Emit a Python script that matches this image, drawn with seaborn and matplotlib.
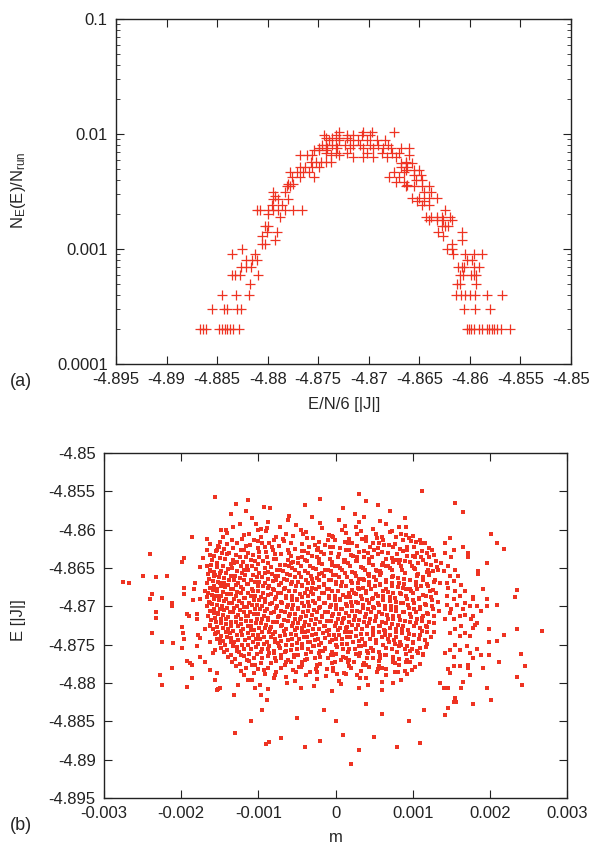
import numpy as np
import pandas as pd
import matplotlib
matplotlib.use('Agg')
import matplotlib.pyplot as plt
import seaborn as sns
from matplotlib.ticker import FixedLocator, FixedFormatter, LogLocator, NullFormatter

RED = '#ee3322'

# (a) histogram of energies: (E/N/6, N_E(E)/N_run)
hist_points = [
    (-4.8867, 0.0002), (-4.8864, 0.0002), (-4.8861, 0.0002), (-4.8848, 0.0002), (-4.8845, 0.0002),
    (-4.8842, 0.0002), (-4.8840, 0.0002), (-4.8837, 0.0002), (-4.8834, 0.0002), (-4.8828, 0.0002),
    (-4.8603, 0.0002), (-4.8601, 0.0002), (-4.8599, 0.0002), (-4.8596, 0.0002), (-4.8591, 0.0002),
    (-4.8588, 0.0002), (-4.8583, 0.0002), (-4.8581, 0.0002), (-4.8578, 0.0002), (-4.8576, 0.0002),
    (-4.8573, 0.0002), (-4.8569, 0.0002), (-4.8560, 0.0002),
    (-4.8855, 0.0003), (-4.8843, 0.0003), (-4.8840, 0.0003), (-4.8830, 0.0003), (-4.8826, 0.0003),
    (-4.8606, 0.0003), (-4.8595, 0.0003), (-4.8580, 0.0003),
    (-4.8845, 0.0004), (-4.8831, 0.0004), (-4.8818, 0.0004), (-4.8614, 0.0004), (-4.8609, 0.0004),
    (-4.8605, 0.0004), (-4.8600, 0.0004), (-4.8595, 0.0004), (-4.8583, 0.0004), (-4.8568, 0.0004),
    (-4.8817, 0.0005), (-4.8613, 0.0005), (-4.8610, 0.0005), (-4.8594, 0.0005),
    (-4.8835, 0.0006), (-4.8832, 0.0006), (-4.8827, 0.0006), (-4.8810, 0.0006), (-4.8610, 0.0006),
    (-4.8607, 0.0006), (-4.8599, 0.0006), (-4.8596, 0.0006), (-4.8594, 0.0006),
    (-4.8826, 0.0007), (-4.8821, 0.0007), (-4.8816, 0.0007), (-4.8612, 0.0007), (-4.8608, 0.0007),
    (-4.8606, 0.0007), (-4.8596, 0.0007), (-4.8591, 0.0007),
    (-4.8821, 0.0008), (-4.8815, 0.0008), (-4.8811, 0.0008), (-4.8603, 0.0008), (-4.8598, 0.0008),
    (-4.8835, 0.0009), (-4.8813, 0.0009), (-4.8617, 0.0009), (-4.8605, 0.0009), (-4.8596, 0.0009),
    (-4.8588, 0.0009),
    (-4.8825, 0.0010), (-4.8623, 0.0010), (-4.8618, 0.0010),
    (-4.8806, 0.0011), (-4.8803, 0.0011), (-4.8618, 0.0011),
    (-4.8793, 0.0012), (-4.8608, 0.0012),
    (-4.8806, 0.0013), (-4.8627, 0.0013),
    (-4.8801, 0.0014), (-4.8791, 0.0014), (-4.8632, 0.0014), (-4.8608, 0.0014),
    (-4.8803, 0.0016), (-4.8800, 0.0016), (-4.8628, 0.0016), (-4.8625, 0.0016), (-4.8622, 0.0016),
    (-4.8640, 0.0018), (-4.8633, 0.0018), (-4.8627, 0.0018), (-4.8618, 0.0018),
    (-4.8788, 0.0019), (-4.8643, 0.0019), (-4.8638, 0.0019), (-4.8633, 0.0019), (-4.8628, 0.0019),
    (-4.8620, 0.0019),
    (-4.8800, 0.0020),
    (-4.8811, 0.0022), (-4.8808, 0.0022), (-4.8800, 0.0022), (-4.8795, 0.0022), (-4.8790, 0.0022),
    (-4.8783, 0.0022), (-4.8775, 0.0022), (-4.8766, 0.0022), (-4.8625, 0.0022),
    (-4.8796, 0.0024), (-4.8786, 0.0024), (-4.8647, 0.0024), (-4.8640, 0.0024),
    (-4.8652, 0.0026), (-4.8645, 0.0026),
    (-4.8795, 0.0027), (-4.8790, 0.0027), (-4.8780, 0.0027),
    (-4.8657, 0.0028), (-4.8650, 0.0028), (-4.8640, 0.0028), (-4.8633, 0.0028),
    (-4.8793, 0.0029),
    (-4.8795, 0.0031), (-4.8783, 0.0031), (-4.8645, 0.0031), (-4.8638, 0.0031),
    (-4.8781, 0.0035), (-4.8778, 0.0035), (-4.8663, 0.0035), (-4.8655, 0.0035), (-4.8647, 0.0035),
    (-4.8640, 0.0035),
    (-4.8662, 0.0036),
    (-4.8780, 0.0037), (-4.8775, 0.0037),
    (-4.8673, 0.0038), (-4.8665, 0.0038),
    (-4.8653, 0.0040), (-4.8647, 0.0040),
    (-4.8776, 0.0042), (-4.8768, 0.0042), (-4.8754, 0.0042), (-4.8680, 0.0042), (-4.8670, 0.0042),
    (-4.8655, 0.0044), (-4.8648, 0.0044),
    (-4.8778, 0.0047), (-4.8771, 0.0047), (-4.8765, 0.0047), (-4.8759, 0.0047), (-4.8675, 0.0047),
    (-4.8665, 0.0047),
    (-4.8663, 0.0049), (-4.8655, 0.0049), (-4.8650, 0.0049),
    (-4.8768, 0.0052), (-4.8763, 0.0052), (-4.8756, 0.0052), (-4.8749, 0.0052), (-4.8668, 0.0052),
    (-4.8662, 0.0052),
    (-4.8668, 0.0056), (-4.8663, 0.0056), (-4.8657, 0.0056),
    (-4.8757, 0.0057), (-4.8752, 0.0057), (-4.8747, 0.0057), (-4.8742, 0.0057), (-4.8737, 0.0057),
    (-4.8663, 0.0057),
    (-4.8716, 0.0063), (-4.8706, 0.0063), (-4.8696, 0.0063), (-4.8682, 0.0063), (-4.8673, 0.0063),
    (-4.8768, 0.0066), (-4.8761, 0.0066), (-4.8756, 0.0066), (-4.8737, 0.0066), (-4.8729, 0.0066),
    (-4.8660, 0.0066),
    (-4.8742, 0.0068), (-4.8732, 0.0068), (-4.8722, 0.0068), (-4.8702, 0.0068), (-4.8687, 0.0068),
    (-4.8677, 0.0068), (-4.8670, 0.0068),
    (-4.8754, 0.0073), (-4.8749, 0.0073), (-4.8742, 0.0073),
    (-4.8749, 0.0076), (-4.8741, 0.0076), (-4.8731, 0.0076), (-4.8719, 0.0076), (-4.8706, 0.0076),
    (-4.8696, 0.0076), (-4.8686, 0.0076), (-4.8678, 0.0076), (-4.8668, 0.0076), (-4.8660, 0.0076),
    (-4.8746, 0.0080), (-4.8742, 0.0080), (-4.8736, 0.0080), (-4.8732, 0.0080), (-4.8724, 0.0080),
    (-4.8716, 0.0080), (-4.8709, 0.0080), (-4.8699, 0.0080), (-4.8691, 0.0080), (-4.8681, 0.0080),
    (-4.8739, 0.0089), (-4.8729, 0.0089), (-4.8719, 0.0089), (-4.8711, 0.0089), (-4.8702, 0.0089),
    (-4.8692, 0.0089), (-4.8684, 0.0089),
    (-4.8742, 0.0092), (-4.8736, 0.0092), (-4.8729, 0.0092), (-4.8722, 0.0092),
    (-4.8744, 0.0098), (-4.8732, 0.0098), (-4.8722, 0.0098), (-4.8716, 0.0098), (-4.8707, 0.0098),
    (-4.8699, 0.0098),
    (-4.8729, 0.0105), (-4.8706, 0.0105), (-4.8697, 0.0105), (-4.8675, 0.0105),
]

# (b) samples: (m in units of 1e-5, E - (-4.87) in units of 1e-4)
outer_left = [
    (-156, 143), (-129, 134), (-113, 139), (-136, 121), (-116, 125), (-93, 129), (-103, 107),
    (-96, 101), (-89, 102), (-149, 99), (-142, 100), (-186, 90), (-166, 88), (-163, 81), (-241, 68),
    (-196, 63), (-199, 58), (-176, 51), (-166, 52), (-172, 63), (-275, 32), (-268, 30), (-249, 40),
    (-232, 38), (-218, 40), (-238, 16), (-225, 11), (-241, 10), (-212, 4), (-212, 0), (-196, 16),
    (-196, 24), (-182, 30), (-184, 23), (-185, 8), (-176, 10), (-192, -10), (-190, -12), (-179, -10),
    (-179, -16), (-232, -8), (-232, -15), (-238, -35), (-225, -46), (-210, -48), (-199, -27),
    (-198, -35), (-196, -43), (-199, -54), (-178, -38), (-176, -41), (-179, -52), (-176, -66),
    (-192, -71), (-189, -74), (-186, -77), (-212, -80), (-228, -90), (-225, -103), (-186, -93),
    (-192, -105), (-156, -96), (-152, -108), (-153, -109), (-132, -116), (-126, -103), (-113, -96),
    (-104, -106), (-96, -116), (-89, -122), (-86, -177),
    (-166, 74), (-163, 67), (-152, 79), (-153, 74), (-163, 46), (-156, 41), (-169, 20), (-163, 4),
    (-166, 0), (-158, -9), (-163, -26), (-169, -30), (-155, -35), (-163, -46), (-156, -57),
    (-169, -72), (-163, -83), (-153, -87), (-150, -107), (-159, -61), (-150, 31), (-154, 22),
    (-150, -43), (-152, -9), (-150, 13),
]

outer_right = [
    (155, 135), (165, 123), (202, 94), (209, 83), (218, 75), (148, 89), (142, 82), (153, 74),
    (172, 70), (172, 64), (165, 78), (196, 56), (185, 46), (185, 42), (191, 22), (178, 12), (235, 21),
    (232, 12), (196, 10), (183, 1), (174, 0), (196, 1), (189, -6), (178, -13), (183, -22), (209, 2),
    (199, -30), (199, -46), (209, -45), (219, -38), (235, -29), (268, -32), (189, -64), (199, -64),
    (212, -72), (191, -81), (241, -62), (245, -78), (235, -92), (242, -102), (196, -107), (202, -122),
    (178, -127), (172, -76), (172, -80), (174, -89), (165, -99), (155, -120), (153, -125), (156, -125),
    (146, -132), (142, -142), (162, -106), (146, -106), (140, -106), (135, -100), (153, -66),
    (146, -82), (148, -87), (161, -78), (153, -78), (178, -67), (174, -61), (183, -55), (170, -52),
    (161, -57), (155, -50), (148, -57), (142, -61), (168, -35), (161, -39), (155, -30), (148, -35),
    (163, -26), (178, -28), (174, -39), (181, -24), (176, -17), (168, -11), (161, -13), (153, -17),
    (148, -9), (142, -17), (165, -4), (157, 2), (150, -4), (144, 2), (168, 4), (178, 10), (161, 13),
    (153, 9), (144, 13), (168, 20), (155, 20), (146, 24), (163, 28), (153, 33), (144, 30), (159, 39),
    (148, 39), (140, 46), (155, 48), (146, 52), (137, 57), (150, 65), (142, 70),
]

outer_top_bottom = [
    (30, 147), (112, 151), (40, 138), (-40, 132), (70, 125), (-85, 128), (25, 120), (-60, 118),
    (90, 115), (10, 128), (-20, 140), (55, 132),
    (20, -205), (-90, -180), (110, -178), (-40, -183), (50, -170), (-130, -165), (80, -183),
    (-20, -175), (10, -168), (-70, -172), (30, -188), (-110, -150), (95, -150), (60, -140),
    (-50, -145), (0, -150), (-15, -135), (40, -128), (-95, -135), (115, -135),
]

core = [
    (-108, 115), (-62, 112), (-31, 117), (4, 113), (37, 116), (58, 111),
    (-124, 108), (-88, 110), (-51, 106), (-20, 109), (12, 105), (30, 110), (66, 107), (82, 104),
    (-133, 103), (-101, 100), (-72, 104), (-45, 99), (-17, 102), (8, 100), (26, 104), (49, 101),
    (73, 98), (91, 103),
    (-140, 96), (-112, 94), (-90, 98), (-64, 95), (-38, 97), (-9, 93), (14, 96), (33, 98), (52, 94),
    (70, 97), (85, 95), (101, 92),
    (-146, 90), (-121, 88), (-97, 91), (-80, 87), (-55, 92), (-29, 89), (-3, 91), (18, 88), (40, 90),
    (61, 86), (79, 91), (95, 89), (110, 87),
    (-150, 84), (-128, 82), (-106, 86), (-86, 83), (-67, 85), (-44, 81), (-22, 84), (-1, 86), (21, 82),
    (39, 85), (57, 83), (77, 81), (98, 85), (116, 83),
    (-151, 78), (-133, 76), (-111, 80), (-92, 77), (-73, 79), (-52, 75), (-34, 78), (-13, 80), (6, 76),
    (28, 79), (45, 77), (63, 80), (84, 75), (102, 78), (121, 76),
    (-155, 72), (-138, 70), (-119, 74), (-99, 71), (-81, 73), (-60, 69), (-41, 72), (-24, 74), (-6, 70),
    (13, 73), (31, 71), (50, 74), (68, 69), (88, 72), (106, 70), (125, 73),
    (-157, 66), (-141, 68), (-124, 64), (-107, 67), (-89, 65), (-70, 68), (-49, 63), (-31, 66),
    (-15, 68), (3, 64), (20, 67), (37, 65), (55, 68), (73, 63), (93, 66), (111, 64), (127, 67),
    (-160, 60), (-143, 62), (-127, 58), (-110, 61), (-94, 59), (-77, 62), (-58, 57), (-40, 60),
    (-22, 62), (-5, 58), (12, 61), (28, 59), (44, 62), (61, 57), (79, 60), (97, 58), (114, 61), (130, 59),
    (-161, 54), (-146, 52), (-131, 56), (-115, 53), (-100, 55), (-84, 51), (-66, 54), (-49, 56),
    (-33, 52), (-17, 55), (-1, 53), (16, 56), (33, 51), (49, 54), (65, 52), (82, 56), (99, 53),
    (117, 55), (131, 51),
    (-162, 48), (-148, 46), (-134, 50), (-118, 47), (-103, 49), (-87, 45), (-72, 48), (-56, 50),
    (-40, 46), (-25, 49), (-10, 47), (6, 50), (22, 45), (38, 48), (54, 46), (70, 50), (86, 47),
    (103, 49), (119, 45), (133, 48),
    (-165, 42), (-150, 44), (-136, 40), (-121, 43), (-107, 41), (-92, 44), (-78, 39), (-63, 42),
    (-47, 44), (-32, 40), (-18, 43), (-3, 41), (12, 44), (27, 39), (43, 42), (59, 44), (74, 40),
    (90, 43), (106, 41), (121, 44),
    (-164, 36), (-151, 38), (-138, 34), (-124, 37), (-110, 35), (-95, 38), (-81, 33), (-67, 36),
    (-52, 38), (-38, 34), (-24, 37), (-9, 35), (5, 38), (20, 33), (35, 36), (50, 38), (66, 34),
    (81, 37), (97, 35), (113, 38), (129, 34),
    (-166, 30), (-152, 32), (-139, 28), (-126, 31), (-113, 29), (-99, 32), (-86, 27), (-71, 30),
    (-57, 32), (-43, 28), (-29, 31), (-15, 29), (0, 32), (14, 27), (29, 30), (44, 32), (58, 28),
    (73, 31), (89, 29), (104, 32), (120, 27), (135, 30),
    (-163, 24), (-149, 26), (-135, 22), (-122, 25), (-108, 23), (-94, 26), (-80, 21), (-65, 24),
    (-51, 26), (-37, 22), (-22, 25), (-8, 23), (7, 26), (21, 21), (36, 24), (51, 26), (65, 22),
    (81, 25), (96, 23), (111, 26), (126, 21),
    (-165, 18), (-153, 20), (-140, 16), (-127, 19), (-114, 17), (-101, 20), (-88, 15), (-74, 18),
    (-60, 20), (-46, 16), (-32, 19), (-18, 17), (-4, 20), (10, 15), (24, 18), (39, 20), (53, 16),
    (68, 19), (83, 17), (98, 20), (113, 15), (130, 18),
    (-167, 12), (-155, 14), (-142, 10), (-129, 13), (-117, 11), (-104, 14), (-91, 9), (-77, 12),
    (-64, 14), (-50, 10), (-36, 13), (-22, 11), (-8, 14), (6, 9), (19, 12), (33, 14), (47, 10),
    (62, 13), (77, 11), (92, 14), (108, 9), (124, 12),
    (-164, 6), (-151, 8), (-138, 4), (-125, 7), (-112, 5), (-99, 8), (-85, 3), (-71, 6), (-57, 8),
    (-43, 4), (-29, 7), (-15, 5), (-1, 8), (13, 3), (27, 6), (41, 8), (55, 4), (70, 7), (85, 5),
    (100, 8), (116, 3), (133, 6),
    (-166, 0), (-154, 2), (-141, -2), (-128, 1), (-115, -1), (-102, 2), (-89, -3), (-76, 0), (-62, 2),
    (-48, -2), (-34, 1), (-20, -1), (-6, 2), (8, -3), (22, 0), (36, 2), (50, -2), (64, 1), (79, -1),
    (94, 2), (109, -3), (125, 0),
    (-163, -6), (-150, -4), (-137, -8), (-124, -5), (-111, -7), (-98, -4), (-84, -9), (-70, -6),
    (-56, -4), (-42, -8), (-28, -5), (-14, -7), (0, -4), (14, -9), (28, -6), (42, -4), (57, -8),
    (72, -5), (87, -7), (102, -4), (118, -9), (134, -6),
    (-165, -12), (-152, -10), (-139, -14), (-126, -11), (-113, -13), (-100, -10), (-87, -15),
    (-73, -12), (-59, -10), (-45, -14), (-31, -11), (-17, -13), (-3, -10), (11, -15), (25, -12),
    (39, -10), (53, -14), (67, -11), (82, -13), (97, -10), (112, -15), (127, -12),
    (-161, -18), (-148, -16), (-135, -20), (-122, -17), (-109, -19), (-95, -16), (-81, -21),
    (-67, -18), (-53, -16), (-39, -20), (-25, -17), (-11, -19), (3, -16), (17, -21), (31, -18),
    (45, -16), (60, -20), (75, -17), (90, -19), (105, -16), (121, -21),
    (-162, -24), (-149, -22), (-136, -26), (-123, -23), (-110, -25), (-97, -22), (-83, -27),
    (-69, -24), (-55, -22), (-41, -26), (-27, -23), (-13, -25), (1, -22), (15, -27), (29, -24),
    (44, -22), (58, -26), (73, -23), (88, -25), (104, -22), (119, -27),
    (-159, -30), (-146, -28), (-133, -32), (-120, -29), (-106, -31), (-92, -28), (-78, -33),
    (-64, -30), (-50, -28), (-36, -32), (-22, -29), (-8, -31), (6, -28), (20, -33), (34, -30),
    (49, -28), (64, -32), (79, -29), (94, -31), (110, -28), (128, -33),
    (-156, -36), (-142, -34), (-128, -38), (-114, -35), (-100, -37), (-86, -34), (-72, -39),
    (-58, -36), (-44, -34), (-30, -38), (-16, -35), (-2, -37), (12, -34), (26, -39), (41, -36),
    (56, -34), (71, -38), (86, -35), (102, -37), (118, -34),
    (-154, -42), (-140, -40), (-126, -44), (-112, -41), (-98, -43), (-84, -40), (-70, -45),
    (-56, -42), (-41, -40), (-27, -44), (-13, -41), (1, -43), (15, -40), (30, -45), (45, -42),
    (60, -40), (76, -44), (92, -41), (108, -43), (124, -40),
    (-150, -48), (-136, -46), (-121, -50), (-107, -47), (-93, -49), (-79, -46), (-64, -51),
    (-50, -48), (-36, -46), (-21, -50), (-7, -47), (8, -49), (23, -46), (38, -51), (53, -48),
    (69, -46), (85, -50), (101, -47), (118, -49),
    (-148, -54), (-133, -52), (-118, -56), (-103, -53), (-88, -55), (-73, -52), (-58, -57),
    (-43, -54), (-28, -52), (-13, -56), (2, -53), (17, -55), (33, -52), (49, -57), (65, -54),
    (82, -52), (99, -56), (117, -53),
    (-144, -60), (-128, -58), (-112, -62), (-96, -59), (-80, -61), (-64, -58), (-48, -63),
    (-32, -60), (-16, -58), (0, -62), (16, -59), (32, -61), (48, -58), (64, -63), (80, -60),
    (97, -58), (113, -62),
    (-139, -66), (-122, -64), (-105, -68), (-88, -65), (-71, -67), (-54, -64), (-37, -69),
    (-20, -66), (-3, -64), (14, -68), (31, -65), (48, -67), (65, -64), (82, -69), (99, -66), (114, -64),
    (-134, -72), (-115, -70), (-96, -74), (-77, -71), (-58, -73), (-39, -70), (-20, -75), (-1, -72),
    (18, -70), (37, -74), (56, -71), (75, -73), (93, -70), (109, -75),
    (-129, -78), (-108, -76), (-87, -80), (-66, -77), (-45, -79), (-24, -76), (-3, -81), (18, -78),
    (39, -76), (60, -80), (82, -77), (103, -79),
    (-123, -84), (-100, -82), (-77, -86), (-55, -83), (-33, -85), (-11, -82), (11, -87), (33, -84),
    (55, -82), (77, -86), (99, -83),
    (-118, -90), (-91, -88), (-64, -92), (-38, -89), (-12, -91), (14, -88), (40, -93), (66, -90), (93, -88),
    (-108, -96), (-80, -94), (-52, -98), (-24, -95), (4, -97), (32, -94), (60, -99), (85, -96),
    (-98, -102), (-63, -100), (-28, -104), (7, -101), (42, -103), (74, -100),
    (-88, -108), (-45, -106), (-5, -110), (30, -107), (60, -109),
]

# densest middle of the cloud
core_inner = [
    (-118, 93), (-77, 91), (-42, 94), (-5, 92), (28, 95), (60, 91), (92, 93),
    (-134, 87), (-100, 85), (-68, 88), (-37, 89), (-10, 86), (12, 84), (34, 88), (54, 89), (88, 86),
    (104, 84),
    (-140, 81), (-116, 79), (-95, 82), (-58, 83), (-26, 80), (-7, 78), (16, 82), (48, 83), (69, 80),
    (93, 78), (111, 82),
    (-145, 75), (-122, 73), (-100, 76), (-82, 77), (-62, 74), (-43, 72), (-23, 76), (-3, 77),
    (17, 74), (37, 72), (55, 76), (74, 77), (93, 74), (112, 72),
    (-147, 69), (-129, 67), (-113, 70), (-90, 71), (-79, 68), (-58, 66), (-36, 70), (-19, 71),
    (4, 68), (23, 66), (42, 70), (60, 71), (80, 68), (100, 66), (118, 70),
    (-150, 63), (-133, 61), (-116, 64), (-99, 65), (-80, 62), (-61, 60), (-43, 64), (-24, 65),
    (-7, 62), (11, 60), (28, 64), (47, 65), (66, 62), (84, 60), (103, 64), (121, 65),
    (-154, 57), (-136, 55), (-120, 58), (-104, 59), (-88, 56), (-72, 54), (-55, 58), (-37, 59),
    (-21, 56), (-4, 54), (11, 58), (27, 59), (44, 56), (60, 54), (75, 58), (90, 59), (107, 56),
    (124, 54),
    (-153, 51), (-139, 49), (-123, 52), (-108, 53), (-92, 50), (-76, 48), (-60, 52), (-45, 53),
    (-29, 50), (-13, 48), (3, 52), (19, 53), (35, 50), (52, 48), (68, 52), (85, 53), (102, 50),
    (120, 48),
    (-157, 45), (-142, 43), (-128, 46), (-113, 47), (-99, 44), (-82, 42), (-68, 46), (-52, 47),
    (-36, 44), (-21, 42), (-6, 46), (9, 47), (25, 44), (42, 42), (58, 46), (73, 47), (90, 44),
    (107, 42), (126, 46),
    (-158, 39), (-144, 37), (-130, 40), (-117, 41), (-102, 38), (-88, 36), (-74, 40), (-59, 41),
    (-45, 38), (-30, 36), (-15, 40), (0, 41), (15, 38), (30, 36), (44, 40), (58, 41), (73, 38),
    (89, 36), (105, 40), (121, 41),
    (-159, 33), (-145, 31), (-131, 34), (-118, 35), (-104, 32), (-91, 30), (-77, 34), (-63, 35),
    (-49, 32), (-35, 30), (-21, 34), (-6, 35), (8, 32), (22, 30), (37, 34), (52, 35), (66, 32),
    (82, 30), (97, 34), (113, 35), (128, 32),
    (-157, 27), (-143, 25), (-129, 28), (-115, 29), (-101, 26), (-87, 24), (-73, 28), (-58, 29),
    (-44, 26), (-30, 24), (-15, 28), (0, 29), (14, 26), (29, 24), (43, 28), (58, 29), (73, 26),
    (88, 24), (104, 28), (118, 29),
    (-159, 21), (-146, 19), (-133, 22), (-120, 23), (-107, 20), (-94, 18), (-81, 22), (-67, 23),
    (-53, 20), (-39, 18), (-25, 22), (-11, 23), (3, 20), (17, 18), (31, 22), (46, 23), (61, 20),
    (75, 18), (91, 22), (106, 23), (122, 20),
    (-160, 15), (-148, 13), (-135, 16), (-122, 17), (-110, 14), (-97, 12), (-84, 16), (-70, 17),
    (-57, 14), (-43, 12), (-29, 16), (-15, 17), (-1, 14), (13, 12), (27, 16), (40, 17), (55, 14),
    (70, 12), (85, 16), (100, 17), (117, 14),
    (-158, 9), (-145, 7), (-132, 10), (-119, 11), (-105, 8), (-92, 6), (-78, 10), (-64, 11),
    (-50, 8), (-36, 6), (-22, 10), (-8, 11), (6, 8), (20, 6), (34, 10), (48, 11), (62, 8), (78, 6),
    (93, 10), (108, 11), (125, 8),
    (-160, 3), (-147, 1), (-134, 4), (-121, 5), (-108, 2), (-95, 0), (-82, 4), (-69, 5), (-55, 2),
    (-41, 0), (-27, 4), (-13, 5), (1, 2), (15, 0), (29, 4), (43, 5), (57, 2), (72, 0), (87, 4),
    (102, 5), (117, 2),
    (-157, -3), (-144, -5), (-131, -2), (-118, -1), (-104, -4), (-91, -6), (-77, -2), (-63, -1),
    (-49, -4), (-35, -6), (-21, -2), (-7, -1), (7, -4), (21, -6), (35, -2), (49, -1), (64, -4),
    (79, -6), (95, -2), (110, -1), (126, -4),
    (-158, -9), (-146, -11), (-133, -8), (-119, -7), (-106, -10), (-93, -12), (-80, -8), (-66, -7),
    (-52, -10), (-38, -12), (-24, -8), (-10, -7), (4, -10), (18, -12), (32, -8), (46, -7), (60, -10),
    (74, -12), (89, -8), (104, -7), (120, -10),
    (-156, -15), (-142, -17), (-129, -14), (-116, -13), (-102, -16), (-88, -18), (-74, -14),
    (-60, -13), (-46, -16), (-32, -18), (-18, -14), (-4, -13), (10, -16), (24, -18), (38, -14),
    (53, -13), (68, -16), (83, -18), (98, -14), (114, -13),
    (-155, -21), (-142, -23), (-129, -20), (-116, -19), (-103, -22), (-90, -24), (-76, -20),
    (-62, -19), (-48, -22), (-34, -24), (-20, -20), (-6, -19), (8, -22), (22, -24), (37, -20),
    (51, -19), (66, -22), (81, -24), (96, -20), (112, -19), (127, -22),
    (-153, -27), (-139, -29), (-126, -26), (-113, -25), (-99, -28), (-85, -30), (-71, -26),
    (-57, -25), (-43, -28), (-29, -30), (-15, -26), (-1, -25), (13, -28), (27, -30), (41, -26),
    (56, -25), (71, -28), (86, -30), (102, -26), (117, -25),
    (-152, -33), (-137, -35), (-123, -32), (-109, -31), (-95, -34), (-81, -36), (-67, -32),
    (-53, -31), (-39, -34), (-25, -36), (-11, -32), (3, -31), (18, -34), (33, -36), (48, -32),
    (63, -31), (79, -34), (95, -36), (112, -32),
    (-149, -39), (-135, -41), (-121, -38), (-107, -37), (-93, -40), (-79, -42), (-65, -38),
    (-51, -37), (-37, -40), (-23, -42), (-9, -38), (5, -37), (19, -40), (34, -42), (49, -38),
    (64, -37), (79, -40), (94, -42), (110, -38),
    (-146, -45), (-131, -47), (-117, -44), (-103, -43), (-89, -46), (-75, -48), (-61, -44),
    (-47, -43), (-33, -46), (-19, -48), (-5, -44), (9, -43), (23, -46), (38, -48), (53, -44),
    (68, -43), (84, -46), (100, -48), (116, -44),
    (-143, -51), (-128, -53), (-114, -50), (-100, -49), (-86, -52), (-72, -54), (-57, -50),
    (-43, -49), (-29, -52), (-14, -54), (0, -50), (15, -49), (30, -52), (46, -54), (61, -50),
    (77, -49), (93, -52), (110, -54),
    (-140, -57), (-125, -59), (-110, -56), (-95, -55), (-80, -58), (-65, -60), (-50, -56),
    (-35, -55), (-20, -58), (-5, -60), (10, -56), (25, -55), (41, -58), (57, -60), (73, -56),
    (90, -55), (106, -58),
    (-135, -63), (-119, -65), (-102, -62), (-86, -61), (-70, -64), (-54, -66), (-38, -62),
    (-22, -61), (-6, -64), (10, -66), (26, -62), (42, -61), (58, -64), (74, -66), (91, -62), (107, -61),
    (-130, -69), (-112, -71), (-95, -68), (-78, -67), (-61, -70), (-44, -72), (-27, -68),
    (-10, -67), (7, -70), (24, -72), (41, -68), (58, -67), (75, -70), (92, -72),
    (-124, -75), (-104, -77), (-84, -74), (-64, -73), (-44, -76), (-24, -78), (-4, -74), (16, -73),
    (36, -76), (56, -78), (77, -74), (97, -73),
    (-116, -81), (-93, -83), (-70, -80), (-47, -79), (-25, -82), (-3, -84), (20, -80), (43, -79),
    (66, -82), (90, -84),
    (-105, -87), (-78, -89), (-51, -86), (-24, -85), (2, -88), (28, -90), (54, -86), (81, -85),
]

a_xticks = [-4.895, -4.89, -4.885, -4.88, -4.875, -4.87, -4.865, -4.86, -4.855, -4.85]
a_xlabels = ['-4.895', '-4.89', '-4.885', '-4.88', '-4.875', '-4.87', '-4.865', '-4.86', '-4.855', '-4.85']
a_yticks = [0.0001, 0.001, 0.01, 0.1]
a_ylabels = ['0.0001', '0.001', '0.01', '0.1']
b_xticks = [-0.003, -0.002, -0.001, 0.0, 0.001, 0.002, 0.003]
b_xlabels = ['-0.003', '-0.002', '-0.001', '0', '0.001', '0.002', '0.003']
b_yticks = [-4.895, -4.89, -4.885, -4.88, -4.875, -4.87, -4.865, -4.86, -4.855, -4.85]
b_ylabels = ['-4.895', '-4.89', '-4.885', '-4.88', '-4.875', '-4.87', '-4.865', '-4.86', '-4.855', '-4.85']

df_a = pd.DataFrame(hist_points, columns=['E', 'p'])
samples = outer_left + outer_right + outer_top_bottom + core + core_inner
df_b = pd.DataFrame(samples, columns=['m5', 'e4'])
df_b['m'] = df_b['m5'] * 1e-5
df_b['E'] = -4.87 + df_b['e4'] * 1e-4

sns.set_style('ticks')
plt.rcParams['font.family'] = ['Liberation Sans', 'DejaVu Sans']
plt.rcParams['mathtext.default'] = 'regular'

W, H = 590, 844
fig = plt.figure(figsize=(W / 100, H / 100), dpi=100)
ax1 = fig.add_axes([116 / W, 1 - 364 / H, 455 / W, 345 / H])
ax2 = fig.add_axes([104 / W, 1 - 798 / H, 463 / W, 345 / H])

sns.scatterplot(data=df_a, x='E', y='p', marker='+', s=60, color=RED, linewidth=0.9, ax=ax1)
ax1.set_yscale('log')
ax1.set_xlim(-4.895, -4.85)
ax1.set_ylim(0.0001, 0.1)
ax1.xaxis.set_major_locator(FixedLocator(a_xticks))
ax1.xaxis.set_major_formatter(FixedFormatter(a_xlabels))
ax1.yaxis.set_major_locator(FixedLocator(a_yticks))
ax1.yaxis.set_major_formatter(FixedFormatter(a_ylabels))
ax1.yaxis.set_minor_locator(LogLocator(base=10, subs=np.arange(2, 10)))
ax1.yaxis.set_minor_formatter(NullFormatter())

sns.scatterplot(data=df_b, x='m', y='E', marker='s', s=5.5, color=RED, linewidth=0, ax=ax2)
ax2.set_xlim(-0.003, 0.003)
ax2.set_ylim(-4.895, -4.85)
ax2.xaxis.set_major_locator(FixedLocator(b_xticks))
ax2.xaxis.set_major_formatter(FixedFormatter(b_xlabels))
ax2.yaxis.set_major_locator(FixedLocator(b_yticks))
ax2.yaxis.set_major_formatter(FixedFormatter(b_ylabels))

fs = 12
for ax in (ax1, ax2):
    ax.set_xlabel('')
    ax.set_ylabel('')
    for sp in ax.spines.values():
        sp.set_visible(True)
        sp.set_linewidth(1.0)
        sp.set_color('#222222')
    ax.tick_params(which='major', direction='in', top=True, right=True, length=6, width=0.8,
                   labelsize=fs, colors='#222222')
    ax.tick_params(which='minor', direction='in', left=True, right=True, length=3, width=0.6)
    ax.tick_params(axis='x', pad=5.5)
    ax.tick_params(axis='y', pad=6)

fig.text(19 / W, 1 - 190 / H, r'N$_{E}$(E)/N$_{run}$', rotation=90, ha='center', va='center', fontsize=fs)
fig.text(344 / W, 1 - 405 / H, 'E/N/6 [|J|]', ha='center', va='center', fontsize=fs)
fig.text(21 / W, 1 - 382 / H, '(a)', ha='center', va='center', fontsize=fs + 1)
fig.text(19 / W, 1 - 620 / H, 'E [|J|]', rotation=90, ha='center', va='center', fontsize=fs)
fig.text(336 / W, 1 - 838 / H, 'm', ha='center', va='center', fontsize=fs)
fig.text(21 / W, 1 - 826 / H, '(b)', ha='center', va='center', fontsize=fs + 1)

fig.savefig('out.png', dpi=100)
